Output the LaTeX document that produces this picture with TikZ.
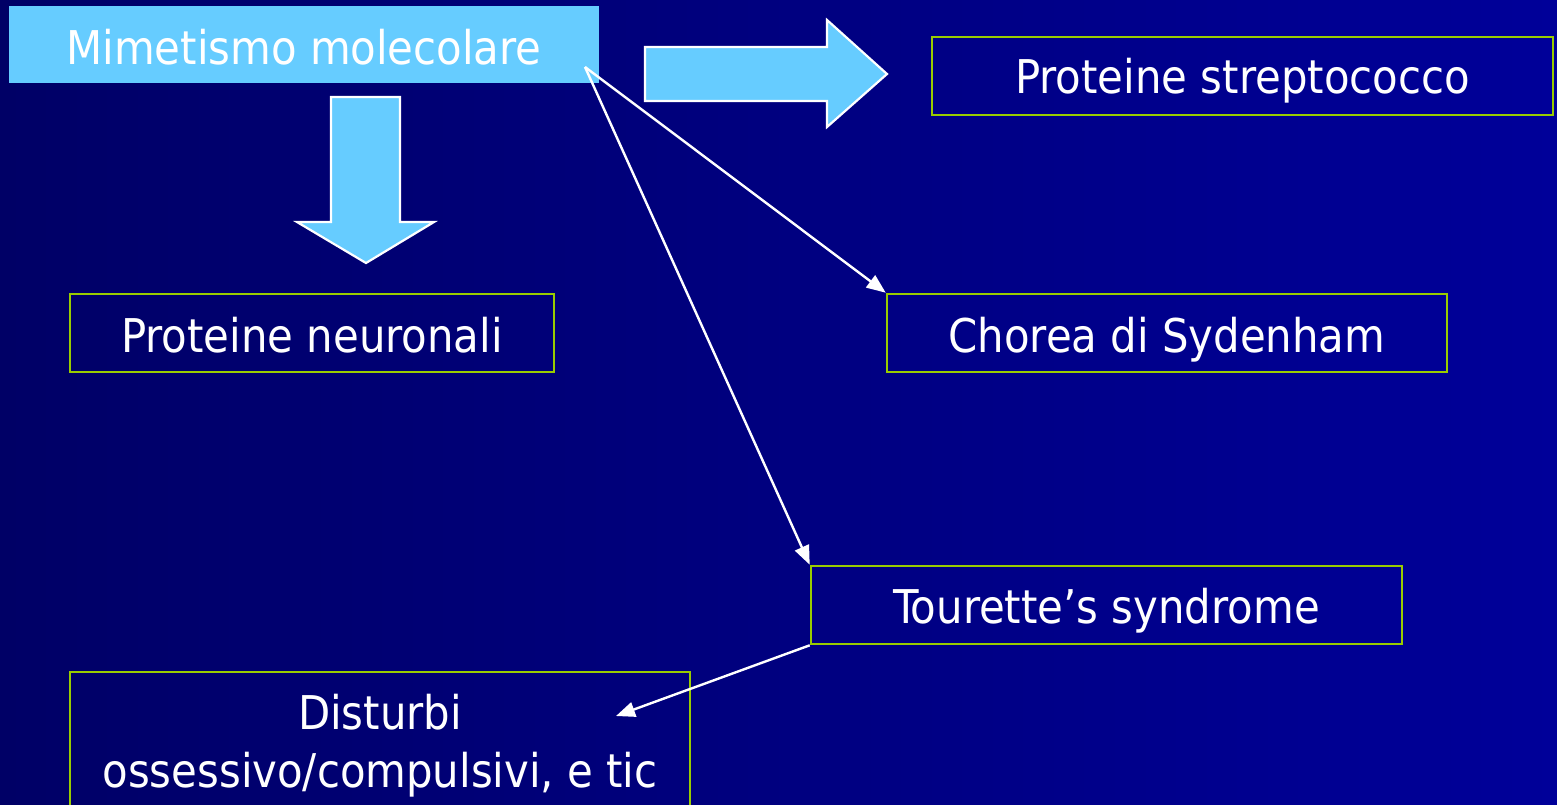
\documentclass[tikz,border=0pt]{standalone}
\usepackage{fontspec}
\setmainfont{DejaVu Sans Condensed}
\usetikzlibrary{arrows.meta}
\definecolor{skyfill}{RGB}{102,204,255}
\definecolor{boxline}{RGB}{153,204,0}
\definecolor{bgleft}{RGB}{0,0,102}
\definecolor{bgright}{RGB}{0,0,153}
\tikzset{
  box/.style={draw=boxline, line width=2.6pt, rectangle, text=white, inner sep=0pt,
    font=\fontsize{46.5}{58}\selectfont, align=center, text height=36pt, text depth=0pt},
  conn/.style={draw=white, line width=2.4pt, -{Triangle[length=19pt,width=15pt]}},
  blockarrow/.style={fill=skyfill, draw=white, line width=2.2pt, line join=miter}
}
\begin{document}
\begin{tikzpicture}[x=1pt,y=-1pt]
\shade[left color=bgleft, right color=bgright] (0,0) rectangle (1557,804);
\useasboundingbox (0,0) rectangle (1557,804);
\node[box, draw=none, fill=skyfill, minimum width=590pt, minimum height=77pt, text height=39pt] (mim) at (304,44.5) {Mimetismo molecolare};
\node[box, minimum width=621pt, minimum height=78pt, text height=34pt] (strep) at (1242.5,76) {Proteine streptococco};
\node[box, minimum width=484pt, minimum height=78pt, text height=38pt] (neur) at (312,333) {Proteine neuronali};
\node[box, minimum width=560pt, minimum height=78pt, text height=38pt] (chor) at (1167,333) {Chorea di Sydenham};
\node[box, minimum width=591pt, minimum height=78pt] (tour) at (1106.5,605) {Tourette’s syndrome};
\node[box, text height=, text depth=, minimum width=620pt, minimum height=148pt] (dist) at (380,746) {Disturbi\\ossessivo/compulsivi, e tic};
% block arrows
\draw[blockarrow] (645,47) -- (827,47) -- (827,20) -- (887,74) -- (827,127) -- (827,101) -- (645,101) -- cycle;
\draw[blockarrow] (331,97) -- (400,97) -- (400,222) -- (434,222) -- (366,263) -- (297,222) -- (331,222) -- cycle;
% connectors
\coordinate (src) at (585,67);
\coordinate (distin) at (616,716);
\draw[conn] (src) -- (chor.north west);
\draw[conn] (src) -- (tour.north west);
\draw[conn] (tour.south west) -- (distin);
\end{tikzpicture}
\end{document}
